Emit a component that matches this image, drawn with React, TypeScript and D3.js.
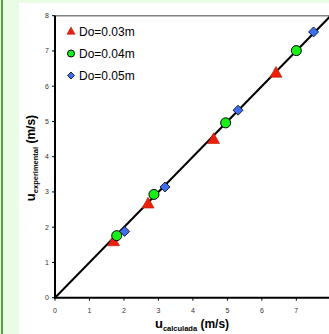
import React from "react";
import * as d3 from "d3";

const ticks = [0, 1, 2, 3, 4, 5, 6, 7, 8];
const xTickLabels = ["0", "1", "2", "3", "4", "5", "6", "7"];
const seriesNames = ["Do=0.03m", "Do=0.04m", "Do=0.05m"];
const do03Calc = [1.7, 2.7, 4.6, 6.41];
const do03Exp = [1.59, 2.66, 4.49, 6.37];
const do04Calc = [1.79, 2.87, 4.95, 7.0];
const do04Exp = [1.76, 2.93, 4.96, 7.01];
const do05Calc = [2.02, 3.19, 5.31, 7.5];
const do05Exp = [1.88, 3.14, 5.32, 7.54];
const fitLine = [0, 8];

const W = 329, H = 334;
const font = "Arial, 'Liberation Sans', sans-serif";

function Marker({ kind, cx, cy, s }: { kind: string; cx: number; cy: number; s: number }) {
  if (kind === "tri") {
    const h = s * 0.9;
    const pts = `${cx},${cy - h * 0.62} ${cx - s / 2},${cy + h * 0.38} ${cx + s / 2},${cy + h * 0.38}`;
    return <polygon points={pts} fill="#e8200c" stroke="#c01800" strokeWidth={0.6} />;
  }
  if (kind === "circ") {
    return <circle cx={cx} cy={cy} r={s / 2} fill="#18f018" stroke="#000" strokeWidth={1} />;
  }
  const r = s / 2;
  const pts = `${cx},${cy - r} ${cx + r},${cy} ${cx},${cy + r} ${cx - r},${cy}`;
  return <polygon points={pts} fill="#3c6ef0" stroke="#000" strokeWidth={0.8} />;
}

export default function App() {
  const x = d3.scaleLinear().domain([0, 8]).range([55, 330.8]);
  const y = d3.scaleLinear().domain([0, 8]).range([297.7, 15.7]);
  const series = [
    { kind: "tri", xs: do03Calc, ys: do03Exp, s: 12 },
    { kind: "circ", xs: do04Calc, ys: do04Exp, s: 10 },
    { kind: "diam", xs: do05Calc, ys: do05Exp, s: 10 },
  ];
  const legendMarkerSize = [8, 7, 7];
  const line = d3.line<number>().x((d) => x(d)).y((d) => y(d));
  return (
    <div style={{ position: "fixed", left: 0, top: 0 }}>
      <svg width={W} height={H} style={{ display: "block" }}>
        <rect x={0} y={0} width={W} height={H} fill="#e8fde4" />
        <rect x={1} y={0} width={2} height={H} fill="#5aa040" />
        <rect x={19} y={3} width={W - 19} height={H - 3} fill="#ffffff" />
        <line x1={x(0)} x2={W} y1={y(8)} y2={y(8)} stroke="#808080" strokeWidth={1.5} />
        {ticks.map((t) => (
          <g key={"y" + t}>
            <line x1={x(0) - 3} x2={x(0)} y1={y(t)} y2={y(t)} stroke="#000" strokeWidth={1} />
            <text x={x(0) - 6} y={y(t) + 2.5} fontSize={7} fontFamily={font} textAnchor="end" fill="#333">
              {t}
            </text>
          </g>
        ))}
        {xTickLabels.map((t, i) => (
          <g key={"x" + t}>
            <line x1={x(i)} x2={x(i)} y1={y(0)} y2={y(0) + 3} stroke="#000" strokeWidth={1} />
            <text x={x(i)} y={y(0) + 15} fontSize={7} fontFamily={font} textAnchor="middle" fill="#333">
              {t}
            </text>
          </g>
        ))}
        <path d={line(fitLine) || ""} stroke="#000" strokeWidth={2} fill="none" />
        <line x1={x(0)} x2={x(0)} y1={y(8)} y2={y(0) + 1} stroke="#000" strokeWidth={2} />
        <line x1={x(0) - 1} x2={W} y1={y(0)} y2={y(0)} stroke="#000" strokeWidth={2} />
        {series.map((s) =>
          s.xs.map((v, i) => <Marker key={s.kind + i} kind={s.kind} cx={x(v)} cy={y(s.ys[i])} s={s.s} />)
        )}
        {seriesNames.map((n, i) => (
          <g key={n}>
            <Marker kind={series[i].kind} cx={71} cy={31.5 + i * 22} s={legendMarkerSize[i]} />
            <text x={79} y={35.5 + i * 22} fontSize={12} fontFamily={font} fill="#000">
              {n}
            </text>
          </g>
        ))}
        <text x={192} y={328} fontFamily={font} fontWeight="bold" textAnchor="middle" fill="#000">
          <tspan fontSize={13}>u</tspan>
          <tspan fontSize={7.5} dy={3}>calculada</tspan>
          <tspan fontSize={12} dy={-3}> (m/s)</tspan>
        </text>
        <text
          transform={`translate(35,158) rotate(-90)`}
          fontFamily={font}
          fontWeight="bold"
          textAnchor="middle"
          fill="#000"
        >
          <tspan fontSize={13}>u</tspan>
          <tspan fontSize={7.5} dy={3}>experimental</tspan>
          <tspan fontSize={12} dy={-3}> (m/s)</tspan>
        </text>
      </svg>
    </div>
  );
}
